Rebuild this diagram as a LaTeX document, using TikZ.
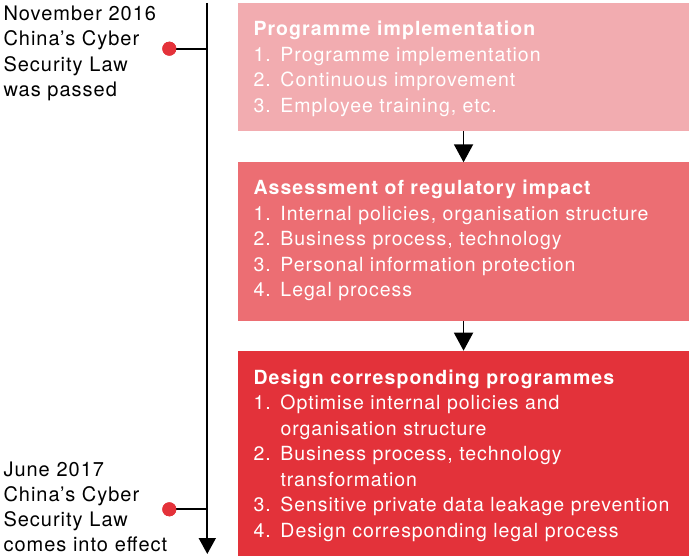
\documentclass[tikz,border=0pt]{standalone}
\usepackage{fontspec}
\setmainfont[LetterSpace=4.8,BoldFeatures={LetterSpace=5.5}]{TeX Gyre Heros}
\usetikzlibrary{arrows.meta}

\definecolor{stageA}{HTML}{F2ACB0}
\definecolor{stageB}{HTML}{EC6E73}
\definecolor{stageC}{HTML}{E3323A}
\definecolor{eventdot}{HTML}{E4323A}

\newcommand{\itm}[1]{\makebox[27pt][l]{#1}}

\begin{document}
\begin{tikzpicture}[x=1pt,y=-1pt,
  stagebox/.style={draw=none,rectangle,inner sep=0pt,anchor=north west,
    minimum width=451.3pt},
  stagetext/.style={anchor=base west,inner sep=0pt,text width=430pt,align=left,
    text=white,font=\fontsize{19.5}{25.5}\selectfont},
  eventtext/.style={anchor=base west,inner sep=0pt,text width=200pt,align=left,
    text=black,font=\fontsize{20}{25.3}\selectfont\addfontfeature{LetterSpace=5}},
  flow/.style={line width=1.8pt,-{Triangle[width=19pt,length=18pt]}},
  timeline/.style={line width=1.8pt,-{Triangle[width=17pt,length=16pt]}},
  branch/.style={line width=1.8pt},
  dot/.style={circle,fill=eventdot,inner sep=0pt,minimum size=14pt}]

\useasboundingbox (0,0) rectangle (689,556);

% stage boxes
\node[stagebox,fill=stageA,minimum height=127.7pt] (b1) at (237.7,3.3) {};
\node[stagebox,fill=stageB,minimum height=158.4pt] (b2) at (237.7,162.3) {};
\node[stagebox,fill=stageC,minimum height=205.3pt] (b3) at (237.7,350.7) {};

% stage contents
\node[stagetext] (t1) at (253.3,36) {\textbf{Programme implementation}\\
  \itm{1.}Programme implementation\\
  \itm{2.}Continuous improvement\\
  \itm{3.}Employee training, etc.};
\node[stagetext] (t2) at (253.3,195) {\textbf{Assessment of regulatory impact}\\
  \itm{1.}Internal policies, organisation structure\\
  \itm{2.}Business process, technology\\
  \itm{3.}Personal information protection\\
  \itm{4.}Legal process};
\node[stagetext] (t3) at (253.3,384.3) {\textbf{Design corresponding programmes}\\
  \itm{1.}Optimise internal policies and\\
  \itm{}organisation structure\\
  \itm{2.}Business process, technology\\
  \itm{}transformation\\
  \itm{3.}Sensitive private data leakage prevention\\
  \itm{4.}Design corresponding legal process};

% flow between stages
\draw[flow] (b1.south) -- (b2.north);
\draw[flow] (b2.south) -- (b3.north);

% timeline
\coordinate (ttop) at (207.3,3);
\coordinate (tend) at (207.3,554);
\draw[timeline] (ttop) -- (tend);

\node[dot] (d1) at (169.3,48.7) {};
\node[dot] (d2) at (169.3,509.3) {};
\coordinate (j1) at (207.3,48.7);
\coordinate (j2) at (207.3,509.3);
\draw[branch] (d1.center) -- (j1);
\draw[branch] (d2.center) -- (j2);
\node[dot] at (d1) {};
\node[dot] at (d2) {};

% event labels
\node[eventtext] (e1) at (3.3,20.7) {November 2016\\China’s Cyber\\Security Law\\was passed};
\node[eventtext] (e2) at (3.3,476) {June 2017\\China’s Cyber\\Security Law\\comes into effect};

\end{tikzpicture}
\end{document}
